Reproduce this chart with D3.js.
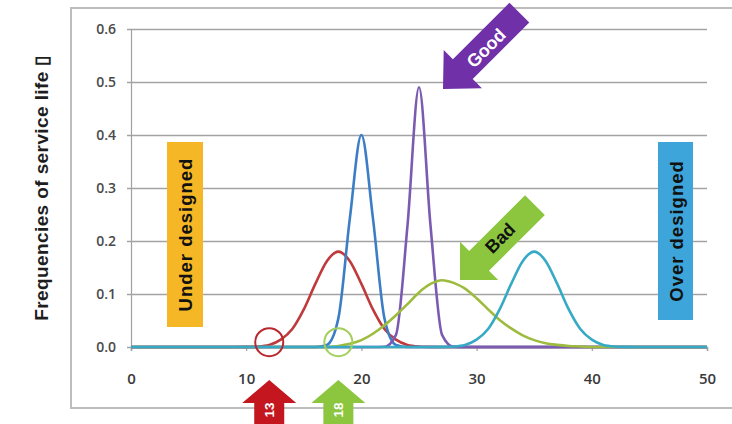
<!DOCTYPE html>
<html><head><meta charset="utf-8">
<script src="https://cdn.jsdelivr.net/npm/d3@7"></script>
<style>body{margin:0;background:#fff}svg{display:block}</style>
</head><body>
<script>
// ---- data ----
const xValues = [0,1,2,3,4,5,6,7,8,9,10,11,12,13,14,15,16,17,18,19,20,21,22,23,24,25,26,27,28,29,30,31,32,33,34,35,36,37,38,39,40,41,42,43,44,45,46,47,48,49,50];
const redSeries = [0,0,0,0,0,0,0,0,0,0,0.0002,0.001,0.004,0.014,0.034,0.071,0.119,0.162,0.180,0.162,0.119,0.071,0.034,0.014,0.004,0.001,0.0002,0,0,0,0,0,0,0,0,0,0,0,0,0,0,0,0,0,0,0,0,0,0,0,0];
const blueSeries = [0,0,0,0,0,0,0,0,0,0,0,0,0,0,0,0,0,0.004,0.054,0.243,0.400,0.243,0.054,0.004,0,0,0,0,0,0,0,0,0,0,0,0,0,0,0,0,0,0,0,0,0,0,0,0,0,0,0];
const purpleSeries = [0,0,0,0,0,0,0,0,0,0,0,0,0,0,0,0,0,0,0,0,0,0,0.0005,0.023,0.229,0.490,0.229,0.023,0.0005,0,0,0,0,0,0,0,0,0,0,0,0,0,0,0,0,0,0,0,0,0,0];
const greenSeries = [0,0,0,0,0,0,0,0,0,0,0,0,0,0,0,0,0,0,0.002,0.006,0.013,0.025,0.041,0.060,0.081,0.103,0.119,0.126,0.121,0.110,0.092,0.071,0.051,0.035,0.022,0.013,0.007,0.004,0.002,0.001,0,0,0,0,0,0,0,0,0,0,0];
const tealSeries = [0,0,0,0,0,0,0,0,0,0,0,0,0,0,0,0,0,0,0,0,0,0,0,0,0,0,0,0.0002,0.001,0.004,0.014,0.034,0.071,0.119,0.162,0.180,0.162,0.119,0.071,0.034,0.014,0.004,0.001,0.0002,0,0,0,0,0,0,0];
const xTicks = [0,10,20,30,40,50];
const yTicks = [0.0,0.1,0.2,0.3,0.4,0.5,0.6];
const yLabel = "Frequencies of service life \u25AF";
const zoneLabels = ["Under designed","Over designed"];
const markerX = [12,18];
const markerLabels = ["13","18"];
const arrowLabels = ["Good","Bad"];

// ---- layout ----
const W = 732, H = 424;
const svg = d3.select("body").append("svg").attr("width",W).attr("height",H);
const x = d3.scaleLinear().domain([0,50]).range([131,707]);
const y = d3.scaleLinear().domain([0,0.6]).range([347,29]);

// outer frame
svg.append("rect").attr("x",71).attr("y",8).attr("width",664).attr("height",400)
  .attr("fill","none").attr("stroke","#bdbdbd").attr("stroke-width",2);

// gridlines + y axis
const yAxis = d3.axisLeft(y).tickValues(yTicks).tickFormat(d3.format(".1f")).tickSize(-(707-131)).tickPadding(15);
const gy = svg.append("g").attr("transform","translate(131,0)").call(yAxis);
gy.select(".domain").attr("stroke","#a0a0a0").attr("stroke-width",1.2);
gy.selectAll(".tick line").attr("stroke","#a3a3a3").attr("stroke-width",1.5).attr("x1",-4);
gy.selectAll(".tick text").attr("fill","#4a4a4a").attr("font-family","'Open Sans', sans-serif")
  .attr("font-weight","600").attr("font-size",14);

// x axis
const xAxis = d3.axisBottom(x).tickValues(xTicks).tickSize(4).tickPadding(22);
const gx = svg.append("g").attr("transform","translate(0,347)").call(xAxis);
gx.select(".domain").attr("stroke","#a0a0a0").attr("stroke-width",1.5);
gx.selectAll(".tick line").attr("stroke","#a0a0a0").attr("stroke-width",1.2);
gx.selectAll(".tick text").attr("fill","#3a3a3a").attr("font-family","'Open Sans', sans-serif")
  .attr("font-weight","600").attr("font-size",15);

// y label
svg.append("text").attr("transform","translate(48,188) rotate(-90)").attr("text-anchor","middle")
  .attr("font-family","'Liberation Sans', Arial, sans-serif").attr("font-weight","bold").attr("font-size",19)
  .attr("letter-spacing",0.4).attr("fill","#1e1e1e").text(yLabel);

// zone boxes
const zones = [
  {label: zoneLabels[0], x0: 167, x1: 203, y0: 142, y1: 327, fill: "#F5B725"},
  {label: zoneLabels[1], x0: 658, x1: 693, y0: 142, y1: 320, fill: "#3DA5D9"}
];
zones.forEach(z => {
  svg.append("rect").attr("x",z.x0).attr("y",z.y0).attr("width",z.x1-z.x0).attr("height",z.y1-z.y0).attr("fill",z.fill);
  svg.append("text").attr("transform",`translate(${(z.x0+z.x1)/2+7},${(z.y0+z.y1)/2}) rotate(-90)`)
    .attr("text-anchor","middle").attr("font-family","'Liberation Sans', Arial, sans-serif")
    .attr("font-weight","bold").attr("font-size",18.5).attr("letter-spacing",1).attr("fill","#111").text(z.label);
});

// curves
const series = [
  {vals: redSeries, color: "#BF3A3C"},
  {vals: blueSeries, color: "#3C7EC6"},
  {vals: purpleSeries, color: "#7B5BB2"},
  {vals: greenSeries, color: "#9DBC3E"},
  {vals: tealSeries, color: "#36A9C4"}
];
const line = d3.line().x((d,i)=>x(xValues[i])).y(d=>y(d)).curve(d3.curveMonotoneX);
series.forEach(s => {
  svg.append("path").datum(s.vals).attr("d",line).attr("fill","none")
    .attr("stroke",s.color).attr("stroke-width",2.6).attr("stroke-linejoin","round");
});

// circles
const circleColors = ["#B8282E","#A3D05A"];
markerX.forEach((m,i) => {
  svg.append("circle").attr("cx",x(m)).attr("cy",y(0.009)).attr("r",14)
    .attr("fill","none").attr("stroke",circleColors[i]).attr("stroke-width",2);
});

// arrow path: tip at origin pointing toward -y
function arrowPath(L,h,hw,sw){
  return `M0,0 L${hw},${h} L${sw},${h} L${sw},${L} L${-sw},${L} L${-sw},${h} L${-hw},${h} Z`;
}
// up arrows under the axis
const upColors = ["#C3161E","#8CC63F"];
markerX.forEach((m,i) => {
  const tx = x(m);
  svg.append("path").attr("d",arrowPath(60,23,27,15)).attr("transform",`translate(${tx},380)`).attr("fill",upColors[i]);
  svg.append("text").attr("transform",`translate(${tx+5},410) rotate(-90)`).attr("text-anchor","middle")
    .attr("font-family","'Liberation Sans', Arial, sans-serif").attr("font-weight","bold").attr("font-size",13.5)
    .attr("fill","#fff").text(markerLabels[i]);
});

// diagonal arrows
const diag = [
  {label: arrowLabels[0], tip:[443,89], L:108, h:28, hw:27, sw:14, color:"#7030A8", text:"#fff", tc:[486,48]},
  {label: arrowLabels[1], tip:[460,280], L:106, h:27, hw:27, sw:14, color:"#8CC63F", text:"#111", tc:[500,238]}
];
diag.forEach(a => {
  svg.append("path").attr("d",arrowPath(a.L,a.h,a.hw,a.sw))
    .attr("transform",`translate(${a.tip[0]},${a.tip[1]}) rotate(-135)`).attr("fill",a.color);
  svg.append("text").attr("transform",`translate(${a.tc[0]+4.5},${a.tc[1]+4.5}) rotate(-45)`).attr("text-anchor","middle")
    .attr("font-family","'Liberation Sans', Arial, sans-serif").attr("font-weight","bold").attr("font-size",18)
    .attr("fill",a.text).text(a.label);
});
</script>
</body></html>
